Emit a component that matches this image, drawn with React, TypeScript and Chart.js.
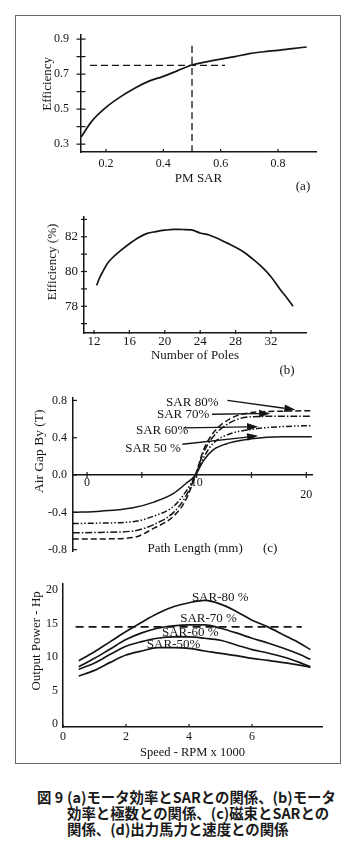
import React, { useEffect, useRef } from 'react';
import { Chart, registerables } from 'chart.js';

Chart.register(...registerables);

const SERIF = "'Liberation Serif', 'Times New Roman', 'DejaVu Serif', serif";
const INK = '#151515';
Chart.defaults.font.family = SERIF;
Chart.defaults.color = INK;

// ---------- (a) Efficiency vs PM SAR ----------
const aPmSar = [0.113, 0.15, 0.2, 0.25, 0.3, 0.35, 0.4, 0.45, 0.5, 0.55, 0.6, 0.65, 0.7, 0.75, 0.8, 0.85, 0.9];
const aEfficiency = [0.34, 0.43, 0.51, 0.57, 0.62, 0.66, 0.687, 0.72, 0.752, 0.77, 0.786, 0.8, 0.817, 0.828, 0.836, 0.846, 0.855];
const aGuideLevel = 0.75;
const aGuideSpanX = [0.144, 0.615];
const aGuideSar = 0.5;
const aGuideSpanY = [0.255, 0.873];
const aXTicks = [0.2, 0.4, 0.6, 0.8];
const aYTicks = [0.3, 0.4, 0.5, 0.6, 0.7, 0.8, 0.9];
const aYLabels = [0.3, 0.5, 0.7, 0.9];

// ---------- (b) Efficiency vs number of poles ----------
const bPoles = [12.3, 12.6, 13, 13.5, 14, 15, 16, 17, 18, 19, 20, 21, 22, 23, 24, 25, 26, 27, 28, 29, 30, 31, 32, 33, 34, 34.5];
const bEfficiency = [79.2, 79.6, 80.0, 80.45, 80.75, 81.2, 81.6, 81.95, 82.2, 82.3, 82.38, 82.43, 82.42, 82.4, 82.22, 82.1, 81.9, 81.65, 81.4, 81.1, 80.7, 80.25, 79.7, 79.0, 78.35, 78.0];
const bXTicks = [12, 16, 20, 24, 28, 32];
const bYTicks = [77, 78, 79, 80, 81, 82, 83];
const bYLabels = [78, 80, 82];

// ---------- (c) Air gap flux density vs path length ----------
const cPath = [-1.3, 1.2, 4.2, 6.1, 7.9, 9.0, 9.9, 10.6, 11.5, 13.0, 15.0, 17.9, 20.5];
const cSar50 = [-0.4, -0.387, -0.35, -0.29, -0.197, -0.093, 0, 0.15, 0.27, 0.345, 0.39, 0.41, 0.41];
const cSar60 = [-0.52, -0.515, -0.5, -0.44, -0.335, -0.18, 0, 0.18, 0.34, 0.44, 0.49, 0.52, 0.53];
const cSar70 = [-0.62, -0.615, -0.6, -0.53, -0.4, -0.23, 0, 0.235, 0.41, 0.56, 0.625, 0.63, 0.63];
const cSar80 = [-0.687, -0.685, -0.67, -0.57, -0.44, -0.27, 0, 0.26, 0.45, 0.6, 0.67, 0.685, 0.69];
const cXTicks = [0, 5, 10, 15, 20];
const cXLabels = [0, 10, 20];
const cYTicks = [-0.8, -0.4, 0, 0.4, 0.8];
const cSeriesNames = ['SAR 80%', 'SAR 70%', 'SAR 60%', 'SAR 50 %'];

// ---------- (d) Output power vs speed ----------
const dSpeed = [0.5, 1, 1.5, 2, 2.5, 3, 3.5, 4, 4.5, 5, 5.5, 6, 6.5, 7, 7.5, 7.85];
const dSar80 = [9.45, 10.8, 12.3, 13.8, 15.2, 16.5, 17.5, 18.1, 18.45, 17.9, 16.8, 15.5, 14.5, 13.3, 12.1, 11.1];
const dSar70 = [8.55, 9.8, 11.2, 12.6, 13.6, 14.3, 14.65, 14.8, 14.8, 14.3, 13.6, 12.8, 12.1, 11.3, 10.4, 9.65];
const dSar60 = [8.16, 9.1, 10.4, 11.6, 12.3, 12.8, 13.0, 13.0, 12.8, 12.5, 11.8, 11.1, 10.6, 10.0, 9.2, 8.55];
const dSar50 = [7.16, 8.0, 9.2, 10.3, 10.9, 11.4, 11.4, 11.3, 10.9, 10.55, 10.2, 9.8, 9.5, 9.15, 8.8, 8.46];
const dRatedPower = 14.5;
const dRatedSpan = [0.4, 7.58];
const dXTicks = [0, 2, 4, 6];
const dYTicks = [0, 5, 10, 15, 20];
const dSeriesNames = ['SAR-80 %', 'SAR-70 %', 'SAR-60 %', 'SAR-50%'];

const captionLines = [
  ['図 9', '(a)モータ効率とSARとの関係、(b)モータ'],
  ['', '効率と極数との関係、(c)磁束とSARとの'],
  ['', '関係、(d)出力馬力と速度との関係'],
];

// ---------- helpers ----------
type Box = { l: number; t: number; w: number; h: number };
type Area = { l: number; t: number; r: number; b: number };

const pts = (xs: number[], ys: number[]) => xs.map((x, i) => ({ x, y: ys[i] }));
const fixTicks = (values: number[]) => (scale: any) => {
  scale.ticks = values.map((v) => ({ value: v }));
};
const lift = (text: string, n: number) => ' '.repeat(n) + text;
const noGrid = { display: true, drawOnChartArea: false, drawTicks: false };
const axisBorder = { display: true, color: INK, width: 1.5 };

const line = (data: any[], extra: any = {}) => ({
  data,
  borderColor: INK,
  borderWidth: 1.5,
  pointRadius: 0,
  cubicInterpolationMode: 'monotone',
  fill: false,
  ...extra,
});

const innerTicks = {
  id: 'innerTicks',
  afterDraw(chart: any, _args: any, opts: any) {
    const { ctx, scales, chartArea } = chart;
    const x = scales.x;
    const y = scales.y;
    ctx.save();
    ctx.strokeStyle = INK;
    ctx.lineWidth = 1.2;
    const axisY = opts.xAt !== undefined ? y.getPixelForValue(opts.xAt) : chartArea.bottom;
    if (opts.xIn || opts.xOut) {
      for (const t of x.ticks) {
        const px = x.getPixelForValue(t.value);
        ctx.beginPath();
        ctx.moveTo(px, axisY - (opts.xIn || 0));
        ctx.lineTo(px, axisY + (opts.xOut || 0));
        ctx.stroke();
      }
    }
    if (opts.yIn || opts.yOut) {
      for (const t of y.ticks) {
        const py = y.getPixelForValue(t.value);
        ctx.beginPath();
        ctx.moveTo(chartArea.left - (opts.yOut || 0), py);
        ctx.lineTo(chartArea.left + (opts.yIn || 0), py);
        ctx.stroke();
      }
    }
    ctx.restore();
  },
};

const annotate = {
  id: 'annotate',
  afterDatasetsDraw(chart: any, _args: any, opts: any) {
    const { ctx, scales } = chart;
    const x = scales.x;
    const y = scales.y;
    ctx.save();
    ctx.fillStyle = INK;
    ctx.strokeStyle = INK;
    ctx.lineWidth = 1.3;
    ctx.textAlign = 'center';
    ctx.textBaseline = 'middle';
    for (const a of opts.items || []) {
      ctx.font = `${a.size || 13}px ${SERIF}`;
      ctx.fillText(a.text, x.getPixelForValue(a.x), y.getPixelForValue(a.y));
      if (a.from && a.to) {
        const x1 = x.getPixelForValue(a.from[0]);
        const y1 = y.getPixelForValue(a.from[1]);
        const x2 = x.getPixelForValue(a.to[0]);
        const y2 = y.getPixelForValue(a.to[1]);
        const ang = Math.atan2(y2 - y1, x2 - x1);
        const L = 11;
        const W = 3.8;
        const c = Math.cos(ang);
        const s = Math.sin(ang);
        ctx.beginPath();
        ctx.moveTo(x1, y1);
        ctx.lineTo(x2 - L * c, y2 - L * s);
        ctx.stroke();
        ctx.beginPath();
        ctx.moveTo(x2, y2);
        ctx.lineTo(x2 - L * c + W * s, y2 - L * s - W * c);
        ctx.lineTo(x2 - L * c - W * s, y2 - L * s + W * c);
        ctx.closePath();
        ctx.fill();
      }
    }
    ctx.restore();
  },
};

const basePlugins = { legend: { display: false }, tooltip: { enabled: false } };

// ---------- panel geometry ----------
const A_BOX: Box = { l: 16, t: 16, w: 324, h: 172 };
const A_AREA: Area = { l: 81, t: 33, r: 316, b: 152 };
const B_BOX: Box = { l: 16, t: 195, w: 324, h: 170 };
const B_AREA: Area = { l: 84, t: 217, r: 306, b: 333 };
const C_BOX: Box = { l: 16, t: 382, w: 324, h: 183 };
const C_AREA: Area = { l: 73, t: 398, r: 312, b: 557 };
const D_BOX: Box = { l: 16, t: 570, w: 324, h: 190 };
const D_AREA: Area = { l: 63, t: 584, r: 322, b: 727 };

const pad = (b: Box, a: Area, bottom = 0) => ({
  left: 0,
  top: a.t - b.t,
  right: b.l + b.w - a.r,
  bottom,
});

function configA() {
  return {
    type: 'line',
    data: {
      datasets: [
        line(pts(aPmSar, aEfficiency), { borderWidth: 1.7 }),
        line(aGuideSpanX.map((x) => ({ x, y: aGuideLevel })), { borderDash: [7, 4], borderWidth: 1.3 }),
        line(aGuideSpanY.map((y) => ({ x: aGuideSar, y })), { borderDash: [7, 4], borderWidth: 1.3 }),
      ],
    },
    options: {
      responsive: false,
      animation: false,
      events: [],
      layout: { padding: pad(A_BOX, A_AREA) },
      plugins: { ...basePlugins, innerTicks: { xIn: 3, yIn: 4.5, yOut: 4.5 } },
      scales: {
        x: {
          type: 'linear',
          min: 0.1128,
          max: 0.9325,
          afterBuildTicks: fixTicks(aXTicks),
          afterFit: (s: any) => { s.height = A_BOX.t + A_BOX.h - A_AREA.b; },
          grid: noGrid,
          border: axisBorder,
          ticks: { autoSkip: false, maxRotation: 0, padding: 5, font: { size: 12 }, callback: (v: number) => v.toFixed(1) },
          title: { display: true, text: 'PM SAR', font: { size: 13 }, padding: { top: 0, bottom: 2 } },
        },
        y: {
          type: 'linear',
          min: 0.2551,
          max: 0.9224,
          afterBuildTicks: fixTicks(aYTicks),
          afterFit: (s: any) => { s.width = A_AREA.l - A_BOX.l; },
          grid: noGrid,
          border: axisBorder,
          ticks: { autoSkip: false, padding: 12, font: { size: 12 }, callback: (v: number) => (aYLabels.some((l) => Math.abs(l - v) < 1e-6) ? v.toFixed(1) : '') },
          title: { display: true, text: lift('Efficiency', 6), font: { size: 13 }, padding: { top: 24, bottom: 0 } },
        },
      },
    },
    plugins: [innerTicks],
  };
}

function configB() {
  return {
    type: 'line',
    data: { datasets: [line(pts(bPoles, bEfficiency), { borderWidth: 1.7 })] },
    options: {
      responsive: false,
      animation: false,
      events: [],
      layout: { padding: pad(B_BOX, B_AREA) },
      plugins: { ...basePlugins, innerTicks: { xIn: 3, xOut: 1, yIn: 3, yOut: 3 } },
      scales: {
        x: {
          type: 'linear',
          min: 10.87,
          max: 35.96,
          afterBuildTicks: fixTicks(bXTicks),
          afterFit: (s: any) => { s.height = B_BOX.t + B_BOX.h - B_AREA.b; },
          grid: noGrid,
          border: axisBorder,
          ticks: { autoSkip: false, maxRotation: 0, padding: 1, font: { size: 13 } },
          title: { display: true, text: 'Number of Poles', font: { size: 13 }, padding: { top: 0, bottom: 2 } },
        },
        y: {
          type: 'linear',
          min: 76.46,
          max: 83.14,
          afterBuildTicks: fixTicks(bYTicks),
          afterFit: (s: any) => { s.width = B_AREA.l - B_BOX.l; },
          grid: noGrid,
          border: axisBorder,
          ticks: { autoSkip: false, padding: 6, font: { size: 13 }, callback: (v: number) => (bYLabels.includes(v) ? String(v) : '') },
          title: { display: true, text: lift('Efficiency (%)', 8), font: { size: 13 }, padding: { top: 29, bottom: 0 } },
        },
      },
    },
    plugins: [innerTicks],
  };
}

function configC() {
  const styles = [
    { borderDash: [6, 3] },
    { borderDash: [7, 2, 1.5, 2] },
    { borderDash: [6, 2, 1.5, 2, 1.5, 2] },
    {},
  ];
  const series = [cSar80, cSar70, cSar60, cSar50];
  return {
    type: 'line',
    data: {
      datasets: series.map((ys, i) => line(pts(cPath, ys), { label: cSeriesNames[i], ...styles[i] })),
    },
    options: {
      responsive: false,
      animation: false,
      events: [],
      layout: { padding: pad(C_BOX, C_AREA, C_BOX.t + C_BOX.h - C_AREA.b) },
      plugins: {
        ...basePlugins,
        innerTicks: { xAt: 0, xIn: 3, xOut: 3, yIn: 4 },
        annotate: {
          items: [
            { text: cSeriesNames[0], x: 9.6, y: 0.775, from: [12.8, 0.8], to: [19.0, 0.7] },
            { text: cSeriesNames[1], x: 8.77, y: 0.65, from: [11.4, 0.652], to: [16.7, 0.66] },
            { text: cSeriesNames[2], x: 6.85, y: 0.477, from: [8.8, 0.505], to: [15.6, 0.518] },
            { text: cSeriesNames[3], x: 6.03, y: 0.287, from: [8.7, 0.33], to: [15.6, 0.42] },
            { text: 'Path Length (mm)', x: 9.86, y: -0.79 },
            { text: '(c)', x: 16.7, y: -0.79 },
          ],
        },
      },
      scales: {
        x: {
          type: 'linear',
          position: { y: 0 },
          min: -1.28,
          max: 20.52,
          afterBuildTicks: fixTicks(cXTicks),
          grid: noGrid,
          border: axisBorder,
          ticks: {
            autoSkip: false,
            maxRotation: 0,
            padding: 2,
            font: { size: 12, lineHeight: 1.0 },
            callback: (v: number) => (v === 20 ? ['', '20'] : cXLabels.includes(v) ? String(v) : ''),
          },
        },
        y: {
          type: 'linear',
          min: -0.823,
          max: 0.826,
          afterBuildTicks: fixTicks(cYTicks),
          afterFit: (s: any) => { s.width = C_AREA.l - C_BOX.l; },
          grid: noGrid,
          border: axisBorder,
          ticks: { autoSkip: false, padding: 6, font: { size: 12 }, callback: (v: number) => v.toFixed(1) },
          title: { display: true, text: lift('Air Gap By (T)', 14), font: { size: 13.5 }, padding: { top: 15, bottom: 0 } },
        },
      },
    },
    plugins: [innerTicks, annotate],
  };
}

function configD() {
  const series = [dSar80, dSar70, dSar60, dSar50];
  return {
    type: 'line',
    data: {
      datasets: [
        ...series.map((ys, i) => line(pts(dSpeed, ys), { label: dSeriesNames[i], borderWidth: 1.7 })),
        line(dRatedSpan.map((x) => ({ x, y: dRatedPower })), { borderDash: [8, 5], borderWidth: 1.6 }),
      ],
    },
    options: {
      responsive: false,
      animation: false,
      events: [],
      layout: { padding: pad(D_BOX, D_AREA) },
      plugins: {
        ...basePlugins,
        innerTicks: { xIn: 3 },
        annotate: {
          items: [
            { text: dSeriesNames[0], x: 4.99, y: 18.9 },
            { text: dSeriesNames[1], x: 4.62, y: 15.78 },
            { text: dSeriesNames[2], x: 4.04, y: 13.63 },
            { text: dSeriesNames[3], x: 3.51, y: 11.8 },
          ],
        },
      },
      scales: {
        x: {
          type: 'linear',
          min: 0,
          max: 8.22,
          afterBuildTicks: fixTicks(dXTicks),
          afterFit: (s: any) => { s.height = D_BOX.t + D_BOX.h - D_AREA.b; },
          grid: noGrid,
          border: axisBorder,
          ticks: { autoSkip: false, maxRotation: 0, padding: 3, font: { size: 12 } },
          title: { display: true, text: 'Speed - RPM x 1000', font: { size: 12.5 }, padding: { top: 0, bottom: 0 } },
        },
        y: {
          type: 'linear',
          min: -0.45,
          max: 20.9,
          afterBuildTicks: fixTicks(dYTicks),
          afterFit: (s: any) => { s.width = D_AREA.l - D_BOX.l; },
          grid: noGrid,
          border: axisBorder,
          ticks: { autoSkip: false, padding: 5, font: { size: 12 } },
          title: { display: true, text: lift('Output Power - Hp', 9), font: { size: 13 }, padding: { top: 13, bottom: 0 } },
        },
      },
    },
    plugins: [innerTicks, annotate],
  };
}

function Panel({ box, make }: { box: Box; make: () => any }) {
  const ref = useRef<HTMLCanvasElement>(null);
  useEffect(() => {
    const chart = new Chart(ref.current as HTMLCanvasElement, make());
    return () => chart.destroy();
  }, []);
  return (
    <canvas
      ref={ref}
      width={box.w}
      height={box.h}
      style={{ position: 'absolute', left: box.l, top: box.t, width: box.w, height: box.h }}
    />
  );
}

const tag = (text: string, cx: number, cy: number) => (
  <div
    style={{
      position: 'absolute',
      left: cx,
      top: cy,
      transform: 'translate(-50%, -50%)',
      font: `13px ${SERIF}`,
      color: INK,
      whiteSpace: 'nowrap',
    }}
  >
    {text}
  </div>
);

export default function App() {
  return (
    <div style={{ position: 'absolute', left: 0, top: 0, width: 350, height: 850, background: '#fff' }}>
      <div
        style={{
          position: 'absolute',
          left: 15,
          top: 15,
          width: 326,
          height: 749,
          border: '1px solid #6a6a6a',
          boxSizing: 'border-box',
        }}
      />
      <Panel box={A_BOX} make={configA} />
      <Panel box={B_BOX} make={configB} />
      <Panel box={C_BOX} make={configC} />
      <Panel box={D_BOX} make={configD} />
      {tag('(a)', 303, 186)}
      {tag('(b)', 287, 370)}
      {captionLines.map(([lead, text], i) => (
        <div
          key={i}
          style={{
            position: 'absolute',
            top: 789 + i * 16,
            left: 0,
            width: 350,
            height: 16,
            lineHeight: '16px',
            fontFamily: "'Noto Sans CJK JP', sans-serif",
            fontWeight: 700,
            fontSize: 14.4,
            color: '#1a1a1a',
            whiteSpace: 'nowrap',
          }}
        >
          <span style={{ position: 'absolute', left: 37 }}>{lead}</span>
          <span style={{ position: 'absolute', left: 67 }}>{text}</span>
        </div>
      ))}
    </div>
  );
}
